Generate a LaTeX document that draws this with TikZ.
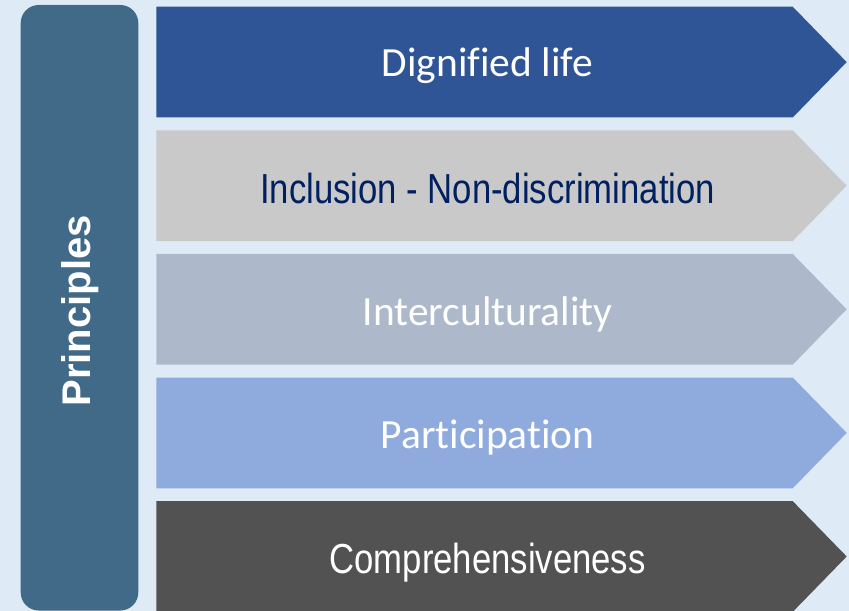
\documentclass[tikz,border=0pt]{standalone}
\usepackage{fontspec}
\setmainfont{Carlito}[Ligatures={NoCommon,NoRare}]
\newfontfamily\narrowfont{Liberation Sans}[FakeStretch=0.826]
\newfontfamily\arialfont{Liberation Sans}
\definecolor{pagebg}{HTML}{DEEBF7}
\definecolor{sidebox}{HTML}{416A89}
\definecolor{rowA}{HTML}{2F5597}
\definecolor{rowB}{HTML}{C9C9C9}
\definecolor{rowC}{HTML}{ADB9CA}
\definecolor{rowD}{HTML}{8FAADC}
\definecolor{rowE}{HTML}{525252}
\definecolor{navytext}{HTML}{002060}
\tikzset{
  calibrilabel/.style={anchor=base, inner sep=0pt, font=\fontsize{41.5bp}{50bp}\selectfont},
  narrowlabel/.style={anchor=base, inner sep=0pt, font=\narrowfont\fontsize{42bp}{50bp}\selectfont},
}
% chevron row: #1 = top edge, #2 = fill colour
\newcommand{\chevronrow}[2]{%
  \fill[#2] (156.3,#1) -- (792.7,#1) -- (846.7,#1+55.4) -- (792.7,#1+110.8) -- (156.3,#1+110.8) -- cycle;}
\begin{document}
\begin{tikzpicture}[x=1bp,y=-1bp]
  \fill[pagebg] (0,0) rectangle (849,611);
  \useasboundingbox (0,0) rectangle (849,611);

  % side panel with the vertical title
  \fill[sidebox, rounded corners=18bp] (20.7,5) rectangle (138.3,610.5);
  \node[rotate=90, text=white, inner sep=0pt,
        font=\arialfont\bfseries\fontsize{40bp}{48bp}\selectfont] (title) at (80,311) {Principles};

  % the five principle rows
  \chevronrow{6.7}{rowA}
  \chevronrow{130.3}{rowB}
  \chevronrow{253.9}{rowC}
  \chevronrow{377.5}{rowD}
  \chevronrow{501.1}{rowE}

  \node[calibrilabel, text=white]    (p1) at (487.6,76.1)  {Dignified life};
  \node[narrowlabel, text=navytext]  (p2) at (487.6,203.7) {Inclusion - Non-discrimination};
  \node[calibrilabel, text=white]    (p3) at (487.6,325.3) {Interculturality};
  \node[calibrilabel, text=white]    (p4) at (487.6,448.9) {Participation};
  \node[narrowlabel, text=white]     (p5) at (487.6,573.5) {Comprehensiveness};
\end{tikzpicture}
\end{document}
